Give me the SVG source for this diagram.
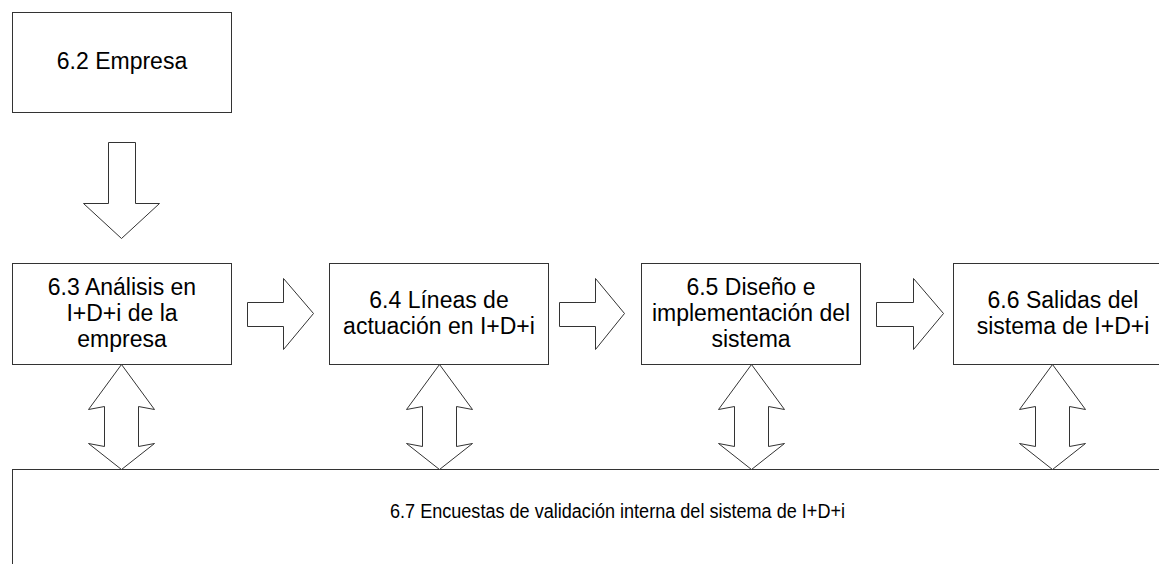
<svg xmlns="http://www.w3.org/2000/svg" width="1159" height="564" viewBox="0 0 1159 564">
<style>
.box{fill:#fff;stroke:#333;stroke-width:1}
.arr{fill:#fff;stroke:#333;stroke-width:1;stroke-linejoin:miter}
.t{font-family:"Liberation Sans",Arial,sans-serif;font-size:23px;fill:#000;text-anchor:middle}
.tb{font-family:"Liberation Sans",Arial,sans-serif;font-size:20px;fill:#000;text-anchor:middle}
</style>
<rect width="1159" height="564" fill="#fff"/>
<g id="n62">
<rect class="box" x="12.5" y="12.5" width="219" height="100"/>
<text class="t" x="122" y="69">6.2 Empresa</text>
</g>
<g id="n63">
<rect class="box" x="12.5" y="263.5" width="219" height="101"/>
<text class="t" x="122" y="295">6.3 Análisis en</text>
<text class="t" x="122" y="321">I+D+i de la</text>
<text class="t" x="122" y="347">empresa</text>
</g>
<g id="n64">
<rect class="box" x="329.5" y="263.5" width="219" height="101"/>
<text class="t" x="439" y="308">6.4 Líneas de</text>
<text class="t" x="439" y="334">actuación en I+D+i</text>
</g>
<g id="n65">
<rect class="box" x="641.5" y="263.5" width="219" height="101"/>
<text class="t" x="751" y="295">6.5 Diseño e</text>
<text class="t" x="751" y="321">implementación del</text>
<text class="t" x="751" y="347">sistema</text>
</g>
<g id="n66">
<rect class="box" x="953.5" y="263.5" width="219" height="101"/>
<text class="t" x="1063" y="308">6.6 Salidas del</text>
<text class="t" x="1063" y="334">sistema de I+D+i</text>
</g>
<g id="n67">
<rect class="box" x="12.5" y="469.5" width="1200" height="150"/>
<text class="tb" x="617.5" y="518" textLength="455" lengthAdjust="spacingAndGlyphs">6.7 Encuestas de validación interna del sistema de I+D+i</text>
</g>
<g id="connectors">
<path class="arr" d="M108.5,142.5 L135.5,142.5 L135.5,203.5 L159.5,203.5 L121.5,238.5 L83.5,203.5 L108.5,203.5 Z"/>
<path class="arr" d="M247.5,302.5 L283.5,302.5 L283.5,278.5 L313.5,313.5 L283.5,349.5 L283.5,326.5 L247.5,326.5 Z"/>
<path class="arr" d="M559.5,302.5 L595.5,302.5 L595.5,278.5 L624.5,313.5 L595.5,349.5 L595.5,326.5 L559.5,326.5 Z"/>
<path class="arr" d="M876.5,302.5 L913.5,302.5 L913.5,278.5 L943.5,313.5 L913.5,349.5 L913.5,326.5 L876.5,326.5 Z"/>
<path class="arr" d="M121.5,364.5 L154.5,409.5 L138.5,406.5 L138.5,446.5 L154.5,443.5 L121.5,469.5 L88.5,443.5 L104.5,446.5 L104.5,406.5 L88.5,409.5 Z"/>
<path class="arr" d="M439.5,364.5 L472.5,409.5 L456.5,406.5 L456.5,446.5 L472.5,443.5 L439.5,469.5 L406.5,443.5 L422.5,446.5 L422.5,406.5 L406.5,409.5 Z"/>
<path class="arr" d="M751.5,364.5 L784.5,409.5 L768.5,406.5 L768.5,446.5 L784.5,443.5 L751.5,469.5 L718.5,443.5 L734.5,446.5 L734.5,406.5 L718.5,409.5 Z"/>
<path class="arr" d="M1052.5,364.5 L1085.5,409.5 L1069.5,406.5 L1069.5,446.5 L1085.5,443.5 L1052.5,469.5 L1019.5,443.5 L1035.5,446.5 L1035.5,406.5 L1019.5,409.5 Z"/>
</g>
</svg>
